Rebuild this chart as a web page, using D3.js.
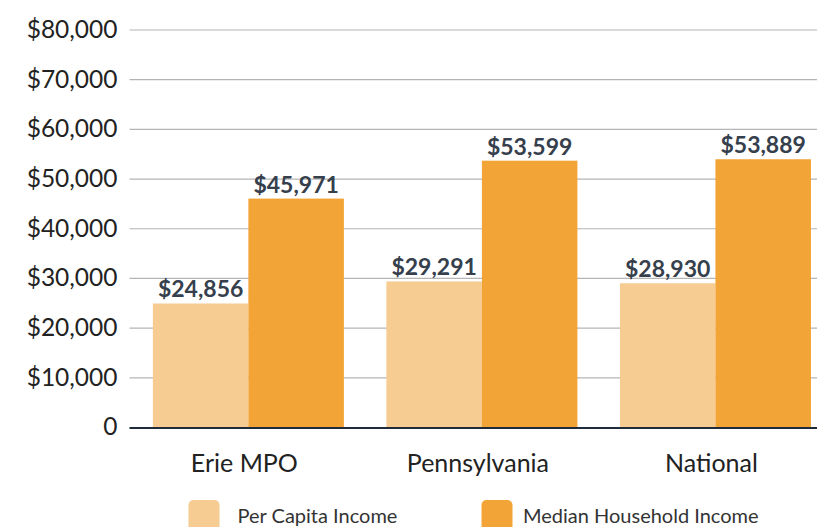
<!DOCTYPE html>
<html lang="en">
<head>
    <meta charset="UTF-8">
    <title>Income comparison</title>
    <style>
        html, body { margin: 0; padding: 0; background: #fff; }
        svg { display: block; font-family: Lato, "Open Sans", sans-serif; }
    </style>
</head>
<body>
    <script src="https://cdn.jsdelivr.net/npm/d3@7"></script>

    <div id="chart"></div>

<script>
// data
const regions = ["Erie MPO", "Pennsylvania", "National"];
const series = ["Per Capita Income", "Median Household Income"];
const perCapita = [24856, 29291, 28930];
const medianHousehold = [45971, 53599, 53889];
const yTicks = [0, 10000, 20000, 30000, 40000, 50000, 60000, 70000, 80000];

const colors = ["#F6CC92", "#F3A436"];

const width = 817,
      height = 527,
      margin = {top: 29.5, right: 0, bottom: 100, left: 129.5};

// table built from the arrays
const rows = regions.map((r, i) => ({
    region: r,
    values: [perCapita[i], medianHousehold[i]]
}));

const svg = d3.select("#chart")
    .append("svg")
    .attr("width", width)
    .attr("height", height);

// scales
const y = d3.scaleLinear()
    .domain([0, 80000])
    .range([427, margin.top]);

const x0 = d3.scaleBand()
    .domain(regions)
    .range([margin.left, 834.3])
    .paddingInner(0.182)
    .paddingOuter(0.1);

const x1 = d3.scaleBand()
    .domain(series)
    .range([0, x0.bandwidth()]);

const color = d3.scaleOrdinal().domain(series).range(colors);

// gridlines + tick labels
const yAxis = d3.axisLeft(y)
    .tickValues(yTicks)
    .tickSize(-(width - margin.left))
    .tickPadding(12)
    .tickFormat(d => d === 0 ? "0" : "$" + d3.format(",")(d));

const gy = svg.append("g")
    .attr("transform", "translate(" + margin.left + ",0)")
    .call(yAxis);

gy.select(".domain").remove();
gy.selectAll(".tick line")
    .attr("stroke", "#b5b5b5")
    .attr("stroke-width", 1.2);
gy.selectAll(".tick text")
    .attr("fill", "#222")
    .attr("font-size", 24.5)
    .attr("font-family", "Lato, sans-serif");

// bars
const groups = svg.append("g")
    .selectAll("g")
    .data(rows)
    .enter()
    .append("g")
    .attr("transform", d => "translate(" + x0(d.region) + ",0)");

const cells = groups.selectAll("g")
    .data(d => d.values.map((v, i) => ({key: series[i], value: v})))
    .enter()
    .append("g");

cells.append("rect")
    .attr("x", d => x1(d.key))
    .attr("y", d => y(d.value))
    .attr("width", x1.bandwidth())
    .attr("height", d => y(0) - y(d.value))
    .attr("fill", d => color(d.key));

cells.append("text")
    .attr("x", d => x1(d.key) + x1.bandwidth() / 2)
    .attr("y", d => y(d.value) - 6)
    .attr("text-anchor", "middle")
    .attr("font-size", 23)
    .attr("font-weight", "bold")
    .attr("fill", "#36404d")
    .text(d => "$" + d3.format(",")(d.value));

// baseline + category labels
const xAxis = d3.axisBottom(x0).tickSize(0).tickPadding(26);
const gx = svg.append("g")
    .attr("transform", "translate(0," + (y(0) + 1) + ")")
    .call(xAxis);
gx.select(".domain")
    .attr("d", "M" + margin.left + ",0H" + width)
    .attr("stroke", "#1f2a3a")
    .attr("stroke-width", 2);
gx.selectAll(".tick text")
    .attr("dx", -4)
    .attr("fill", "#222")
    .attr("font-size", 25)
    .attr("font-family", "Lato, sans-serif");

// legend
const swatchX = [188.5, 481.5];
const labelX = [237.5, 523];
const legend = svg.append("g")
    .selectAll("g")
    .data(series)
    .enter()
    .append("g");

legend.append("rect")
    .attr("x", (d, i) => swatchX[i])
    .attr("y", 500)
    .attr("width", 31)
    .attr("height", 31)
    .attr("rx", 5)
    .attr("fill", d => color(d));

legend.append("text")
    .attr("x", (d, i) => labelX[i])
    .attr("y", 523)
    .attr("font-size", 20)
    .attr("fill", "#333")
    .text(d => d);
</script>
</body>
</html>
